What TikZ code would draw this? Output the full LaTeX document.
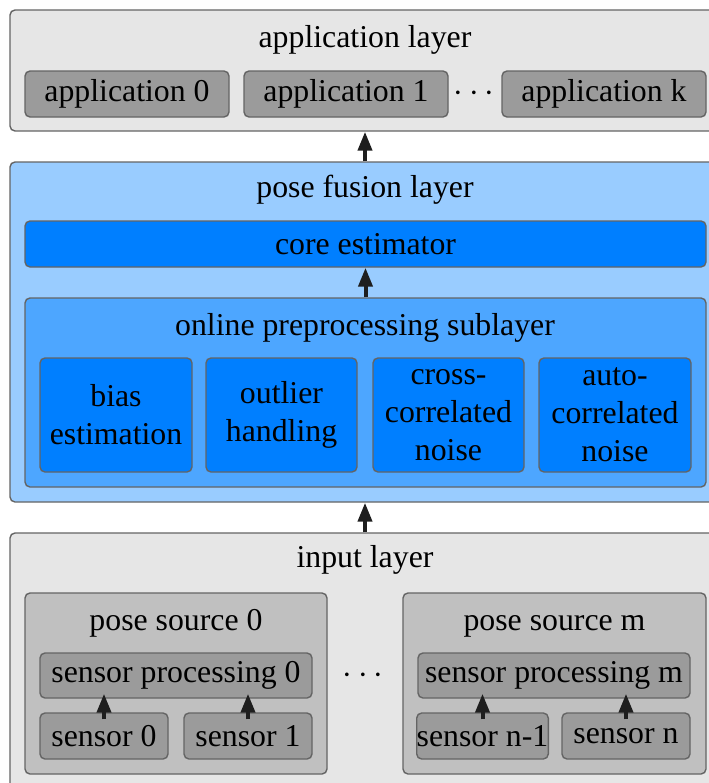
\documentclass[tikz,border=0pt]{standalone}
\usepackage{fontspec}
\setmainfont{Liberation Serif}
\usetikzlibrary{arrows.meta,fit}

\definecolor{layergray}{RGB}{230,230,230}
\definecolor{sourcegray}{RGB}{192,192,192}
\definecolor{boxgray}{RGB}{155,155,155}
\definecolor{fusionblue}{RGB}{153,204,255}
\definecolor{prepblue}{RGB}{77,166,255}
\definecolor{coreblue}{RGB}{0,127,255}
\definecolor{edgegray}{RGB}{100,100,100}
\definecolor{arrowblack}{RGB}{30,30,30}

\tikzset{
  box/.style={draw=edgegray, line width=0.7pt, rounded corners=2.5pt, inner sep=0pt, align=center},
  title/.style={anchor=base},
  flow/.style={draw=arrowblack, line width=2pt, -{Triangle[length=9.5pt,width=7pt]}},
}

\begin{document}
\begin{tikzpicture}[x=0.5pt,y=-0.5pt, every node/.style={font=\fontsize{15.9}{19}\selectfont}]
            \useasboundingbox (0,0) rectangle (708,783);
            % application layer
            \node[box, fill=layergray, fit={(10,10) (720,131)}] (applayer) {};
            \node[title] (apptitle) at (365,47) {application layer};
            \node[box, fill=boxgray, minimum width=102pt, minimum height=23pt] (app0) at (127,94) {application 0};
            \node[box, fill=boxgray, minimum width=102pt, minimum height=23pt] (app1) at (346,94) {application 1};
            \node[title] (appdots) at (474,101) {$\cdots$};
            \node[box, fill=boxgray, minimum width=102pt, minimum height=23pt] (appk) at (604,94) {application k};
            % pose fusion layer
            \node[box, fill=fusionblue, fit={(10,162) (720,502)}] (fusion) {};
            \node[title] (fusiontitle) at (365,197) {pose fusion layer};
            \node[box, fill=coreblue, minimum width=340.5pt, minimum height=23pt] (core) at (365.5,244) {core estimator};
            % online preprocessing
            \node[box, fill=prepblue, fit={(25,298) (706,487)}] (prep) {};
            \node[title] (preptitle) at (365,335) {online preprocessing sublayer};
            \node[box, fill=coreblue, minimum width=76pt, minimum height=57pt] (bias) at (116,415) {bias\\estimation};
            \node[box, fill=coreblue, minimum width=75.5pt, minimum height=57pt] (outlier) at (281.5,415) {outlier\\handling};
            \node[box, fill=coreblue, minimum width=75.5pt, minimum height=57pt] (cross) at (448.5,415) {cross-\\correlated\\noise};
            \node[box, fill=coreblue, minimum width=76pt, minimum height=57pt] (auto) at (615,415) {auto-\\correlated\\noise};
            % input layer
            \node[box, fill=layergray, fit={(10,533) (720,800)}] (inlayer) {};
            \node[title] (intitle) at (365,567) {input layer};
            % pose source 0
            \node[box, fill=sourcegray, fit={(25,593) (327,774)}] (src0) {};
            \node[title] (src0title) at (176,630) {pose source 0};
            \node[box, fill=boxgray, minimum width=136pt, minimum height=22.5pt] (proc0) at (176,675.5) {sensor processing 0};
            \node[box, fill=boxgray, minimum width=64pt, minimum height=23pt] (sens0) at (104,736) {sensor 0};
            \node[box, fill=boxgray, minimum width=64pt, minimum height=23pt] (sens1) at (248,736) {sensor 1};
            \node[title] (srcdots) at (363,683) {$\cdots$};
            % pose source m
            \node[box, fill=sourcegray, fit={(403,593) (706,774)}] (srcm) {};
            \node[title] (srcmtitle) at (554.5,630) {pose source m};
            \node[box, fill=boxgray, minimum width=136pt, minimum height=22.5pt] (procm) at (554,675.5) {sensor processing m};
            \node[box, fill=boxgray, minimum width=65.5pt, minimum height=23pt] (sensn1) at (482.5,736) {sensor n-1};
            \node[box, fill=boxgray, minimum width=64pt, minimum height=23pt] (sensn) at (626,736) {sensor n};
            % Pfeile
            \draw[flow] (fusion.north) -- (applayer.south);
            \draw[flow] (prep.north) -- (core.south);
            \draw[flow] (inlayer.north) -- (fusion.south);
            \draw[flow, shorten <=-3.5pt, shorten >=-2.5pt] (sens0.north) -- (sens0.north |- proc0.south);
            \draw[flow, shorten <=-3.5pt, shorten >=-2.5pt] (sens1.north) -- (sens1.north |- proc0.south);
            \draw[flow, shorten <=-3.5pt, shorten >=-2.5pt] (sensn1.north) -- (sensn1.north |- procm.south);
            \draw[flow, shorten <=-3.5pt, shorten >=-2.5pt] (sensn.north) -- (sensn.north |- procm.south);
\end{tikzpicture}
\end{document}
